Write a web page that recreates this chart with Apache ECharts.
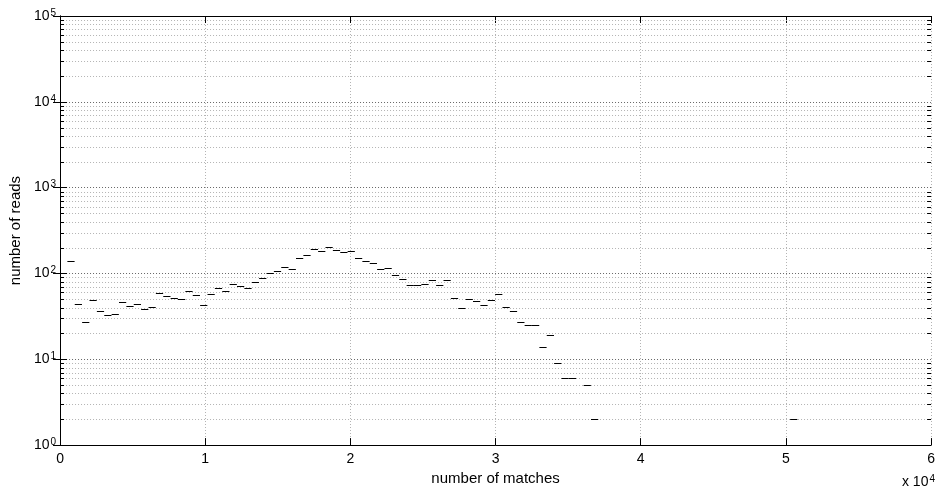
<!DOCTYPE html>
<html>
<head>
<meta charset="utf-8">
<title>number of reads vs number of matches</title>
<script src="https://cdn.jsdelivr.net/npm/echarts@6/dist/echarts.min.js"></script>
<style>
  html, body { margin: 0; padding: 0; background: #fff; }
  #chart { width: 938px; height: 491px; }
</style>
</head>
<body>
<div id="chart"></div>
<script>
// histogram bins (centre of each non-empty bin) and counts
const binWidth = 508;
const binCenters = [
  755, 1263, 1771, 2279, 2787, 3295, 3803, 4311, 4819, 5327,
  5835, 6343, 6851, 7359, 7867, 8375, 8883, 9391, 9899, 10407,
  10915, 11423, 11931, 12439, 12947, 13455, 13963, 14471, 14979, 15487,
  15995, 16503, 17011, 17519, 18027, 18535, 19043, 19551, 20059, 20567,
  21075, 21583, 22091, 22599, 23107, 23615, 24123, 24631, 25139, 25647,
  26155, 26663, 27171, 27679, 28187, 28695, 29203, 29711, 30219, 30727,
  31235, 31743, 32251, 32759, 33267, 33775, 34283, 34791, 35299, 36315,
  36823, 50539
];
const readCounts = [
  138, 44, 27, 49, 37, 33, 34, 46, 42, 44,
  39, 41, 59, 54, 52, 51, 63, 56, 43, 58,
  68, 62, 75, 72, 67, 79, 89, 102, 107, 119,
  112, 152, 163, 195, 182, 206, 187, 180, 185, 153,
  140, 131, 112, 115, 96, 87, 73, 74, 76, 83,
  73, 83, 52, 40, 51, 48, 43, 49, 57, 41,
  37, 27, 25, 25, 14, 19, 9, 6, 6, 5,
  2, 2
];

// axis ranges / ticks
const xMin = 0, xMax = 60000, xStep = 10000;
const yMin = 1, yMax = 100000;
const decades = [1, 10, 100, 1000, 10000];
const minorSteps = [2, 3, 4, 5, 6, 7, 8, 9];

const minorValues = [];
decades.forEach(d => minorSteps.forEach(m => minorValues.push([xMin, d * m])));

const font = '"Liberation Sans", Arial, Helvetica, sans-serif';

const chart = echarts.init(document.getElementById('chart'));

const renderDash = (params, api) => {
  const c = api.value(0), v = api.value(1);
  const a = api.coord([c - binWidth * 0.49, v]);
  const b = api.coord([c + binWidth * 0.49, v]);
  const y = Math.round(a[1]) + 0.5;
  return {
    type: 'line',
    shape: { x1: a[0], y1: y, x2: b[0], y2: y },
    style: { stroke: '#000', lineWidth: 1 }
  };
};

const renderMinor = (params, api) => {
  const v = api.value(1);
  const l = api.coord([xMin, v]);
  const r = api.coord([xMax, v]);
  const y = Math.round(l[1]) + 0.5;
  return {
    type: 'group',
    children: [
      { type: 'line', shape: { x1: l[0], y1: y, x2: r[0], y2: y },
        style: { stroke: '#b4b4b4', lineWidth: 1, lineDash: [1, 2] } },
      { type: 'line', shape: { x1: l[0], y1: y, x2: l[0] + 4, y2: y },
        style: { stroke: '#000', lineWidth: 1 } },
      { type: 'line', shape: { x1: r[0] - 4, y1: y, x2: r[0], y2: y },
        style: { stroke: '#000', lineWidth: 1 } }
    ]
  };
};

const supLabel = v => '{b|10}{s|' + Math.round(Math.log10(v)) + '}';

const option = {
  backgroundColor: '#fff',
  animation: false,
  grid: { left: 55, right: 3, top: 16, bottom: 45 },
  xAxis: [
    {
      type: 'value', min: xMin, max: xMax, interval: xStep,
      name: 'number of matches', nameLocation: 'middle', nameGap: 14,
      nameTextStyle: { color: '#000', fontSize: 15, fontFamily: font },
      axisLine: { lineStyle: { color: '#000', width: 1 } },
      axisTick: { inside: true, length: 7, lineStyle: { color: '#000' } },
      axisLabel: { color: '#000', fontSize: 14, fontFamily: font, margin: 7,
        formatter: v => String(v / xStep) },
      splitLine: { show: true, lineStyle: { color: '#b4b4b4', type: [1, 2] } }
    },
    {
      type: 'value', position: 'top', min: xMin, max: xMax, interval: xStep,
      axisLine: { lineStyle: { color: '#000', width: 1 } },
      axisTick: { inside: true, length: 7, lineStyle: { color: '#000' } },
      axisLabel: { show: false },
      splitLine: { show: false }
    }
  ],
  yAxis: [
    {
      type: 'log', logBase: 10, min: yMin, max: yMax, splitNumber: 5,
      name: 'number of reads', nameLocation: 'middle', nameGap: 22,
      nameTextStyle: { color: '#000', fontSize: 15, fontFamily: font },
      axisLine: { lineStyle: { color: '#000', width: 1 } },
      axisTick: { inside: true, length: 7, lineStyle: { color: '#000' } },
      axisLabel: {
        margin: 4, showMinLabel: true, showMaxLabel: true,
        formatter: supLabel,
        rich: {
          b: { color: '#000', fontSize: 14, fontFamily: font },
          s: { color: '#000', fontSize: 10, fontFamily: font, verticalAlign: 'top', padding: [0, 0, 6, 1] }
        }
      },
      splitLine: { show: true, lineStyle: { color: '#666', type: [1, 2] } }
    },
    {
      type: 'log', logBase: 10, min: yMin, max: yMax, splitNumber: 5, position: 'right',
      axisLine: { lineStyle: { color: '#000', width: 1 } },
      axisTick: { inside: true, length: 7, lineStyle: { color: '#000' } },
      axisLabel: { show: false },
      splitLine: { show: false }
    }
  ],
  graphic: [
    {
      type: 'text', right: 3, bottom: 2,
      style: {
        text: '{a|x 10}{s|4}',
        rich: {
          a: { fontSize: 14, fontFamily: font, fill: '#000' },
          s: { fontSize: 10, fontFamily: font, fill: '#000', verticalAlign: 'top', padding: [0, 0, 6, 1] }
        }
      }
    }
  ],
  series: [
    {
      name: 'minor grid', type: 'custom', xAxisIndex: 0, yAxisIndex: 0,
      silent: true, z: 1, renderItem: renderMinor,
      encode: { x: 0, y: 1 }, data: minorValues
    },
    {
      name: 'reads', type: 'custom', xAxisIndex: 0, yAxisIndex: 0,
      z: 3, renderItem: renderDash,
      encode: { x: 0, y: 1 },
      data: binCenters.map((c, i) => [c, readCounts[i]])
    }
  ]
};

chart.setOption(option);
</script>
</body>
</html>
